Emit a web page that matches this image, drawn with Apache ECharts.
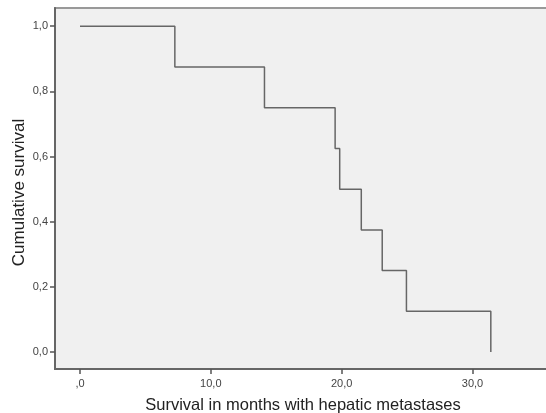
<!DOCTYPE html>
<html>
<head>
<meta charset="utf-8">
<script src="https://cdn.jsdelivr.net/npm/echarts@6/dist/echarts.min.js"></script>
<style>
html,body{margin:0;padding:0;background:#fff;}
#c{width:546px;height:413px;}
</style>
</head>
<body>
<div id="c"></div>
<script>
// Kaplan-Meier step data
var times = [0, 7.25, 14.1, 19.5, 19.85, 21.5, 23.1, 24.95, 31.4];
var survival = [1, 0.875, 0.75, 0.625, 0.5, 0.375, 0.25, 0.125, 0];
var xTicks = [0, 10, 20, 30];
var xTickLabels = [',0', '10,0', '20,0', '30,0'];
var yTicks = [0, 0.2, 0.4, 0.6, 0.8, 1.0];
var yTickLabels = ['0,0', '0,2', '0,4', '0,6', '0,8', '1,0'];

var data = times.map(function (t, i) { return [t, survival[i]]; });
function lab(ticks, labels) {
  return function (v) {
    for (var i = 0; i < ticks.length; i++) if (Math.abs(ticks[i] - v) < 1e-6) return labels[i];
    return '';
  };
}
var chart = echarts.init(document.getElementById('c'));
chart.setOption({
  animation: false,
  backgroundColor: '#ffffff',
  textStyle: { fontFamily: 'Liberation Sans, Arial, sans-serif' },
  grid: {
    left: 55, right: -5, top: 8, bottom: 44,
    containLabel: false, outerBoundsMode: 'none',
    show: true, backgroundColor: '#f0f0f0', borderColor: '#999', borderWidth: 2
  },
  xAxis: {
    type: 'value', min: -1.91, max: 36.0,
    name: 'Survival in months with hepatic metastases',
    nameLocation: 'middle', nameGap: 28, nameMoveOverlap: false,
    nameTextStyle: { fontSize: 16.5, color: '#222', fontFamily: 'Liberation Sans' },
    axisLine: { show: true, onZero: false, lineStyle: { color: '#666', width: 2 } },
    axisTick: { show: true, inside: false, length: 5, customValues: xTicks, lineStyle: { color: '#555', width: 1.5 } },
    axisLabel: { customValues: xTicks, formatter: lab(xTicks, xTickLabels), fontSize: 11, color: '#444', margin: 9 },
    splitLine: { show: false }
  },
  yAxis: {
    type: 'value', min: -0.052, max: 1.056,
    name: 'Cumulative survival',
    nameLocation: 'middle', nameGap: 27, nameRotate: 90, nameMoveOverlap: false,
    nameTextStyle: { fontSize: 17, color: '#222', fontFamily: 'Liberation Sans', padding: [0, 8, 0, 0] },
    axisLine: { show: true, onZero: false, lineStyle: { color: '#666', width: 2 } },
    axisTick: { show: true, inside: false, length: 5, customValues: yTicks, lineStyle: { color: '#555', width: 1.5 } },
    axisLabel: { customValues: yTicks, formatter: lab(yTicks, yTickLabels), fontSize: 11, color: '#444', margin: 7 },
    splitLine: { show: false }
  },
  series: [{
    type: 'line', step: 'end', data: data, symbol: 'none',
    lineStyle: { color: '#666', width: 1.5 }
  }]
});
</script>
</body>
</html>
